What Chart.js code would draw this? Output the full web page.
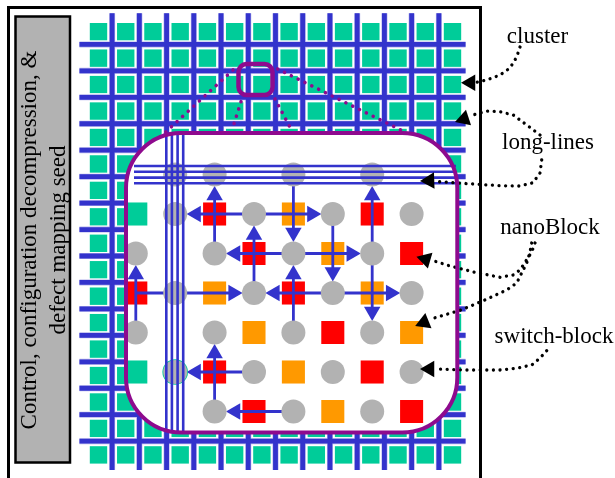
<!DOCTYPE html>
<html>
<head>
<meta charset="utf-8">
<script src="https://cdn.jsdelivr.net/npm/chart.js@4/dist/chart.umd.min.js"></script>
<style>
    html, body { margin: 0; padding: 0; background: #fff; }
    #myChart { display: block; }
</style>
</head>
<body>
<canvas id="myChart" width="615" height="478"></canvas>
<script>
// colours
const GREEN = '#00cc99', BLUE = '#3333cc', PURPLE = '#8e0a8e', RED = '#ff0000', ORANGE = '#ff9900', GREY = '#b2b2b2';

// outer fabric, in cluster cells
const clusterCols = [0,1,2,3,4,5,6,7,8,9,10,11,12,13];
const clusterRows = [0,1,2,3,4,5,6,7,8,9,10,11,12,13,14,15,16];

// zoomed view, in cell columns and rows
const redBlocks = [[2,1],[6,1],[3,2],[7,2],[0,3],[4,3],[5,4],[2,5],[6,5],[3,6],[7,6]];
const orangeBlocks = [[4,1],[5,2],[2,3],[6,3],[3,4],[7,4],[4,5],[5,6]];
const greenBlocks = [[0,1],[0,5]];
const hiddenBlocks = [[1,5]]; // green block that peeks out behind a switch-block
const switchBlocks = [
    [1,0],[2,0],[4,0],[6,0],
    [1,1],[3,1],[5,1],[7,1],
    [0,2],[2,2],[4,2],[6,2],
    [1,3],[3,3],[5,3],[7,3],
    [0,4],[2,4],[4,4],[6,4],
    [1,5],[3,5],[5,5],[7,5],
    [2,6],[4,6],[6,6]
];
// from column, from row, to column, to row
const routes = [
    [2,2,2,0],[3,1,1,1],[3,1,5,1],[4,0,4,2],[3,3,3,1],[4,2,2,2],[4,2,6,2],[5,1,5,3],
    [6,2,6,0],[6,2,6,4],[1,3,3,3],[5,3,3,3],[4,4,4,2],[5,3,7,3],[0,4,0,2],[2,6,2,4],
    [3,5,1,5],[4,6,2,6]
];
const plainRoutes = [[0,3,1,3]];

// long-lines through the zoomed view, page units
const longLineX = [166.3,171.9,177.6,183.2];
const longLineY = [166,171.8,177.6,183.2];

// callouts, page units
const clusterCurve = [[520,47],[516.7,57],[510,68],[500,75],[486.7,80],[475,82.7]];
const longTopCurve = [[540,135],[526.7,125],[513.3,115],[500,111.7],[486.7,111],[473,115]];
const longLowCurve = [[541.7,160],[540,173],[533,182.7],[520,186],[500,185.7],[473,184],[436,181.5]];
const nanoTopCurve = [[535,243],[531.7,252],[520,270],[513,275],[500,277.3],[475,272.3],[450,266],[431,260]];
const nanoLowCurve = [[531.7,243],[530,252],[526.7,263],[516.7,283],[506.7,290],[485,300],[461,310],[431,319]];
const switchCurve = [[546.7,350.7],[540,358],[531.7,365],[516.7,368.3],[500,370],[466.7,370],[435,369]];
const calloutHeads = [[470.5,82.7,270],[464,119,252],[429.5,180.7,268],[425.6,259.3,286],[424,322.4,248],[429.5,369,270]];

// fine dotted zoom guides, page units
const guideLines = [
    [[233,70],[157,140]],
    [[241,101.7],[233,127]],
    [[275,99],[292,131]],
    [[277.7,69],[405,132]]
];

const labels = [
    {t:'cluster', x:537.5, y:37},
    {t:'long-lines', x:548, y:143},
    {t:'nanoBlock', x:550, y:228},
    {t:'switch-block', x:554, y:337}
];
const sideLabels = [
    {t:'Control, configuration decompression, &', x:30, y:240},
    {t:'defect mapping seed', x:59, y:240}
];

const cross = (a, b) => a.flatMap(x => b.map(y => ({x, y})));
const toPts = list => list.map(p => ({x: p[0], y: p[1]}));

// three coordinate systems share the canvas
const W = 615, H = 478;
const span = (origin, pitch, size) => ({min: (0 - origin) / pitch, max: (size - origin) / pitch});
const hidden = o => Object.assign({type: 'linear', display: false, grid: {display: false}}, o);
const scales = {
    x: hidden({min: 0, max: W}),
    y: hidden({min: 0, max: H, reverse: true}),
    xC: hidden(span(98.5, 27.23, W)),
    yC: hidden(Object.assign(span(31.7, 26.45, H), {reverse: true})),
    xI: hidden(span(135.8, 39.4, W)),
    yI: hidden(Object.assign(span(174.5, 39.5, H), {reverse: true}))
};

const onCluster = {xAxisID: 'xC', yAxisID: 'yC'};
const onInner = {xAxisID: 'xI', yAxisID: 'yI'};

const squares = (list, color, axes, radius) => Object.assign({
    type: 'scatter', data: list, pointStyle: 'rect', pointRadius: radius, backgroundColor: color, borderWidth: 0, pointBorderWidth: 0
}, axes);
const discs = (list, color, radius) => Object.assign({
    type: 'scatter', data: list, pointStyle: 'circle', pointRadius: radius, backgroundColor: color, borderWidth: 0, pointBorderWidth: 0
}, onInner);
const wire = (data, color, width, axes, extra) => Object.assign({
    type: 'line', data, borderColor: color, borderWidth: width, pointRadius: 0, fill: false, tension: 0
}, axes || {}, extra || {});
const dotted = (pts, color, width, gap) => wire(toPts(pts), color, width, null, {borderCapStyle: 'round', borderDash: [0.01, gap]});
const curved = pts => dotted(pts, '#000', 3.3, 6.6);

// paint order, bottom first
const layers = [];
layers.push(squares(cross(clusterCols, clusterRows), GREEN, onCluster, 12.3));
// channels of the fabric, with the pale rim they have in the original
const channelCols = clusterCols.slice(0, 13).map(c => c + 0.5);
const channelRows = clusterRows.slice(0, 16).map(r => r + 0.48);
const fabric = (width, color) => {
    channelCols.forEach(c => layers.push(wire([{x: c, y: -0.7}, {x: c, y: 16.57}], color, width, onCluster)));
    channelRows.forEach(r => layers.push(wire([{x: -0.7, y: r}, {x: 13.48, y: r}], color, width, onCluster)));
};
fabric(7.5, '#ffffff');
fabric(6, '#b4b4ec');
fabric(4.8, BLUE);
// zoom guides
guideLines.forEach(g => layers.push(dotted(g, PURPLE, 3.6, 7.6)));
// zoomed view, panel is painted before this one
const firstInner = squares(toPts(greenBlocks), GREEN, onInner, 16.3);
firstInner.panelFill = true;
layers.push(firstInner);
layers.push(squares(toPts(redBlocks), RED, onInner, 16.3));
layers.push(squares(toPts(orangeBlocks), ORANGE, onInner, 16.3));
// routes
const HEAD = 0.53;
plainRoutes.forEach(r => layers.push(wire([{x: r[0], y: r[1]}, {x: r[2], y: r[3]}], BLUE, 2.8, onInner)));
routes.forEach(r => layers.push(wire([{x: r[0], y: r[1]}, {x: r[2] - Math.sign(r[2] - r[0]) * HEAD, y: r[3] - Math.sign(r[3] - r[1]) * HEAD}], BLUE, 2.8, onInner)));
layers.push({
    type: 'scatter', xAxisID: 'xI', yAxisID: 'yI', pointStyle: 'triangle', pointRadius: 9.5, borderWidth: 0, pointBorderWidth: 0, backgroundColor: BLUE,
    data: routes.map(r => ({x: r[2] - Math.sign(r[2] - r[0]) * HEAD, y: r[3] - Math.sign(r[3] - r[1]) * HEAD})),
    pointRotation: routes.map(r => r[3] < r[1] ? 0 : r[3] > r[1] ? 180 : r[2] > r[0] ? 90 : 270)
});
// switch-blocks
layers.push(discs(toPts(hiddenBlocks), GREEN, 12.8));
layers.push(discs(toPts(switchBlocks), GREY, 12));
// long-lines run over the switch-blocks
longLineX.forEach(x => layers.push(wire([{x, y: 133}, {x, y: 432}], BLUE, 2.6)));
longLineY.forEach(y => layers.push(wire([{x: 134, y}, {x: 456, y}], BLUE, 2.6)));
// callouts
[clusterCurve, longTopCurve, longLowCurve, nanoTopCurve, nanoLowCurve, switchCurve].forEach(c => layers.push(curved(c)));
layers.push({
    type: 'scatter', data: calloutHeads.map(h => ({x: h[0], y: h[1]})), pointRotation: calloutHeads.map(h => h[2]),
    pointStyle: 'triangle', pointRadius: 9.5, backgroundColor: '#000', borderWidth: 0, pointBorderWidth: 0
});

function roundedBox(ctx, x0, y0, x1, y1, r) {
    ctx.beginPath();
    ctx.roundRect(x0, y0, x1 - x0, y1 - y0, r);
}

const diagramPlugin = {
    id: 'diagram',
    beforeDatasetsDraw(chart) {
        const ctx = chart.ctx, sx = chart.scales.x, sy = chart.scales.y;
        const px = v => sx.getPixelForValue(v), py = v => sy.getPixelForValue(v);
        ctx.save();
        // outer frame, open at the bottom
        ctx.strokeStyle = '#000';
        ctx.lineWidth = 3;
        ctx.beginPath();
        ctx.moveTo(px(8.5), py(478));
        ctx.lineTo(px(8.5), py(7.5));
        ctx.lineTo(px(480.5), py(7.5));
        ctx.lineTo(px(480.5), py(478));
        ctx.stroke();
        // control box
        ctx.fillStyle = GREY;
        ctx.lineWidth = 2.5;
        ctx.beginPath();
        ctx.rect(px(15.5), py(16.5), px(70) - px(15.5), py(462.5) - py(16.5));
        ctx.fill();
        ctx.stroke();
        ctx.restore();
    },
    beforeDatasetDraw(chart, args) {
        if (!chart.data.datasets[args.index].panelFill) return;
        const ctx = chart.ctx, sx = chart.scales.x, sy = chart.scales.y;
        ctx.save();
        ctx.fillStyle = '#fff';
        roundedBox(ctx, sx.getPixelForValue(126), sy.getPixelForValue(133), sx.getPixelForValue(457.3), sy.getPixelForValue(432.5), 55);
        ctx.fill();
        ctx.restore();
    },
    afterDatasetsDraw(chart) {
        const ctx = chart.ctx, sx = chart.scales.x, sy = chart.scales.y;
        ctx.save();
        ctx.strokeStyle = PURPLE;
        ctx.lineWidth = 4;
        roundedBox(ctx, sx.getPixelForValue(126), sy.getPixelForValue(133), sx.getPixelForValue(457.3), sy.getPixelForValue(432.5), 55);
        ctx.stroke();
        ctx.lineWidth = 4.5;
        roundedBox(ctx, sx.getPixelForValue(238.5), sy.getPixelForValue(64), sx.getPixelForValue(272.5), sy.getPixelForValue(95), 8);
        ctx.stroke();
        ctx.fillStyle = '#000';
        ctx.font = '23px "Liberation Serif"';
        ctx.textAlign = 'center';
        ctx.textBaseline = 'middle';
        labels.forEach(l => ctx.fillText(l.t, sx.getPixelForValue(l.x), sy.getPixelForValue(l.y)));
        sideLabels.forEach(l => {
            ctx.save();
            ctx.translate(sx.getPixelForValue(l.x), sy.getPixelForValue(l.y));
            ctx.rotate(-Math.PI / 2);
            ctx.fillText(l.t, 0, 0);
            ctx.restore();
        });
        ctx.restore();
    }
};

new Chart(document.getElementById('myChart').getContext('2d'), {
    type: 'scatter',
    data: {datasets: layers.slice().reverse()},
    options: {
        responsive: false,
        animation: false,
        layout: {padding: 0, autoPadding: false},
        scales,
        plugins: {legend: {display: false}, tooltip: {enabled: false}, title: {display: false}}
    },
    plugins: [diagramPlugin]
});
</script>
</body>
</html>
